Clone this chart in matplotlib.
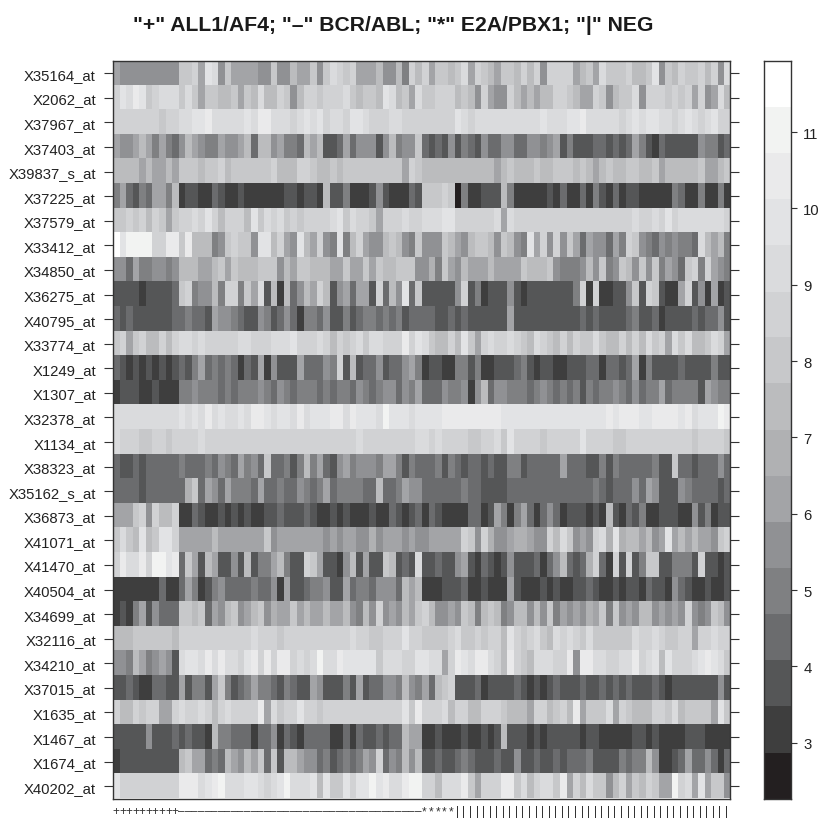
import numpy as np
import matplotlib
matplotlib.use("Agg")
import matplotlib.pyplot as plt
from matplotlib.colors import ListedColormap, BoundaryNorm

plt.rcParams["font.family"] = ["Liberation Sans", "DejaVu Sans"]

genes = ["X35164_at", "X2062_at", "X37967_at", "X37403_at", "X39837_s_at", "X37225_at",
         "X37579_at", "X33412_at", "X34850_at", "X36275_at", "X40795_at", "X33774_at",
         "X1249_at", "X1307_at", "X32378_at", "X1134_at", "X38323_at", "X35162_s_at",
         "X36873_at", "X41071_at", "X41470_at", "X40504_at", "X34699_at", "X32116_at",
         "X34210_at", "X37015_at", "X1635_at", "X1467_at", "X1674_at", "X40202_at"]

group_symbols = ["+", "\u2013", "*", "|"]
group_sizes = [10, 37, 5, 42]

colorbar_breaks = [2.27, 2.87, 3.48, 4.08, 4.69, 5.29, 5.89, 6.50, 7.10, 7.71, 8.31, 8.91, 9.52, 10.12, 10.73, 11.33, 11.93]
colorbar_ticks = [3, 4, 5, 6, 7, 8, 9, 10, 11]
grays = ["#231f20", "#3e3e3e", "#555657", "#6b6c6e", "#7f8082", "#909194", "#a3a4a7", "#b0b1b3",
         "#bbbcbe", "#c7c8ca", "#d1d2d4", "#dadbdd", "#e2e3e5", "#eaeaeb", "#f2f3f2", "#ffffff"]

# each number is the colour band of one cell
X35164_at = [6,5,5,5,5,5,5,5,5,5, 9,9,10,6,12,11,5,9,6,6, 6,6,5,5,9,5,5,8,6,6, 9,5,9,11,10,9,10,6,6,6, 8,5,5,8,4,10,8,10,6,9, 9,8,9,11,6,10,9,8,6,9, 9,8,10,8,10,5,10,10,10,10, 6,8,9,6,11,9,9,9,10,8, 8,9,12,5,9,8,10,9,9,10, 8,10,5,11]
X2062_at = [10,12,11,13,12,9,10,11,11,11, 9,11,9,6,9,9,8,8,9,6, 9,8,11,8,8,10,9,5,8,10, 10,9,10,10,10,11,9,8,9,9, 8,12,11,8,9,6,11,9,9,10, 10,10,8,9,8,5,10,6,5,5, 10,8,6,8,6,8,8,10,10,9, 8,6,6,10,9,5,8,9,9,11, 5,10,10,10,9,10,9,10,6,10, 5,6,11,8]
X37967_at = [10,10,10,10,10,10,10,9,10,10, 11,11,12,12,13,11,11,11,11,11, 12,11,13,13,11,11,11,10,11,12, 11,12,10,11,11,10,12,12,11,10, 10,10,11,11,10,10,10,10,10,10, 10,10,12,11,10,11,11,11,11,11, 11,11,11,11,11,12,11,11,11,12, 12,13,11,11,11,11,11,10,11,12, 11,12,12,11,11,10,11,12,11,10, 11,12,10,10]
X37403_at = [6,5,5,6,8,6,4,6,4,3, 5,8,6,5,4,4,6,5,5,6, 8,3,8,8,5,6,4,4,3,8, 6,8,2,2,3,6,3,5,5,5, 2,5,8,4,5,5,9,3,2,3, 2,5,2,4,3,2,5,3,3,5, 5,3,3,5,5,4,5,6,2,4, 2,2,2,3,3,2,3,2,3,6, 4,2,1,3,2,2,2,2,2,5, 4,4,2,3]
X39837_s_at = [8,8,8,8,6,8,6,6,8,6, 9,9,9,8,9,9,10,8,9,9, 9,9,9,9,10,8,8,8,10,10, 9,8,8,9,8,9,9,9,9,9, 9,9,9,9,6,10,9,8,8,8, 8,8,8,8,8,8,8,8,6,8, 9,8,8,8,9,8,8,9,9,9, 8,9,8,6,8,9,8,8,9,9, 8,8,9,6,8,8,8,8,8,9, 6,6,8,9]
X37225_at = [4,6,3,2,4,3,6,6,4,8, 1,2,2,1,1,3,2,1,1,2, 1,1,1,1,1,1,2,2,1,2, 2,1,8,2,2,4,1,1,1,2, 5,2,1,1,1,3,2,9,9,9, 10,9,0,4,1,1,2,2,2,8, 4,1,1,1,1,1,2,1,3,1, 1,3,1,4,2,1,3,1,2,2, 1,1,1,1,1,4,3,1,1,4, 1,1,4,1]
X37579_at = [9,9,10,9,10,8,10,9,6,9, 10,10,11,10,12,10,8,10,10,10, 8,12,9,11,10,11,9,10,9,10, 10,10,10,11,12,9,11,10,10,9, 6,10,10,10,11,10,10,11,11,11, 12,12,10,10,10,10,10,10,11,6, 11,10,10,10,10,10,10,10,10,10, 10,10,10,10,10,10,10,10,10,11, 10,10,11,10,12,10,11,11,11,11, 11,11,11,10]
X33412_at = [15,12,14,14,14,14,10,10,13,13, 9,13,8,8,8,4,5,9,10,9, 9,5,12,12,8,10,6,5,12,8, 6,10,5,4,12,4,8,10,6,5, 5,8,9,8,5,4,9,5,5,5, 9,8,6,5,8,9,9,8,5,9, 8,5,4,12,6,10,5,10,5,9, 6,3,6,5,5,3,6,4,10,9, 5,4,3,5,4,5,4,4,3,11, 8,6,8,4]
X34850_at = [5,5,3,6,4,4,5,5,4,5, 8,8,8,6,6,8,9,6,9,8, 8,8,9,9,9,5,8,6,9,9, 8,8,8,6,6,9,6,6,9,6, 9,8,8,9,9,9,5,5,7,4, 9,6,5,8,6,6,6,8,6,6, 6,6,9,8,8,8,9,5,4,4, 4,5,8,5,9,4,5,9,8,5, 9,5,9,4,6,5,3,9,10,4, 10,6,5,4]
X36275_at = [2,2,2,2,1,2,2,2,2,3, 9,10,4,5,5,8,4,10,10,4, 9,6,11,2,8,1,8,3,5,8, 6,10,8,2,5,6,3,6,6,2, 10,3,8,5,12,3,9,2,2,2, 2,2,5,10,2,4,1,2,2,2, 5,2,1,2,2,2,2,2,2,2, 4,10,1,10,1,1,2,2,5,9, 2,10,9,2,1,1,6,10,2,5, 1,6,1,2]
X40795_at = [3,2,3,2,2,2,2,2,2,3, 3,4,3,3,2,6,5,5,4,3, 2,2,5,4,2,3,5,3,1,4, 4,3,5,2,2,4,2,3,4,4, 3,4,3,4,2,3,3,3,3,2, 2,3,2,3,2,2,2,2,2,2, 6,2,2,2,2,2,2,2,2,2, 2,3,2,3,2,2,2,2,3,4, 2,2,3,1,2,2,2,2,3,2, 3,3,5,2]
X33774_at = [9,10,6,9,10,8,8,10,8,10, 11,11,10,11,10,10,10,10,10,11, 11,10,10,10,11,11,11,12,10,10, 10,11,10,8,10,9,10,11,9,11, 11,10,10,10,13,10,12,11,9,8, 8,10,8,12,9,6,10,11,10,10, 11,10,9,8,11,10,9,8,10,8, 10,9,9,11,9,8,8,10,8,10, 8,11,9,10,6,11,9,11,8,8, 9,11,10,6]
X1249_at = [3,2,1,2,1,2,1,2,1,2, 3,2,4,6,3,4,3,4,3,1, 3,2,6,1,5,2,2,2,6,3, 3,3,5,4,10,2,8,2,3,3, 5,2,3,3,5,6,4,1,2,2, 1,1,4,4,2,4,1,1,2,2, 2,3,4,2,1,2,2,1,1,2, 2,2,3,3,1,3,3,2,3,6, 1,4,2,2,2,2,3,2,2,2, 2,4,2,2]
X1307_at = [1,2,2,2,1,1,2,1,1,1, 4,4,5,4,4,4,3,4,3,4, 4,4,5,4,3,5,4,3,4,4, 4,3,4,3,4,4,3,5,4,3, 4,5,5,3,5,4,6,3,3,3, 5,4,4,5,1,5,8,3,5,5, 4,4,4,3,4,5,4,3,4,3, 4,2,4,3,4,4,5,4,3,5, 3,4,4,6,3,4,4,4,4,2, 6,5,4,4]
X32378_at = [11,11,11,11,11,11,11,11,11,11, 12,11,12,11,13,11,12,11,11,12, 11,13,13,12,11,12,12,11,13,11, 12,12,12,13,13,11,13,12,12,12, 11,14,12,12,12,11,12,12,12,12, 13,13,13,13,13,13,13,13,13,12, 12,12,12,12,12,12,12,12,12,12, 12,12,12,12,12,13,12,13,13,13, 12,12,13,13,13,13,12,13,11,12, 12,12,14,13]
X1134_at = [11,10,10,10,9,9,10,10,9,10, 10,10,10,11,10,10,10,10,10,10, 10,10,10,10,10,10,10,10,10,10, 10,10,10,10,10,10,10,11,10,10, 10,10,10,10,10,10,11,11,10,11, 10,10,10,10,9,9,10,10,11,9, 12,10,10,10,10,9,10,10,10,10, 10,12,10,10,10,10,9,9,10,10, 10,10,10,10,10,10,10,10,9,10, 10,10,10,9]
X38323_at = [3,2,2,3,2,3,3,3,3,3, 4,3,3,3,4,3,5,4,3,6, 4,5,3,9,3,3,4,2,4,8, 4,6,3,2,5,6,4,5,5,5, 4,6,6,4,2,4,3,3,3,4, 2,4,3,2,3,3,2,3,2,2, 4,4,2,3,3,3,3,3,6,3, 3,3,2,2,4,2,4,3,3,3, 3,3,4,2,2,9,3,3,2,3, 3,3,5,3]
X35162_s_at = [3,3,3,3,2,3,3,3,3,3, 3,7,9,3,6,5,3,6,4,4, 4,3,6,3,3,4,3,3,5,4, 3,4,6,3,4,4,4,4,3,3, 8,3,3,4,6,5,5,3,3,3, 3,3,3,4,3,3,2,2,2,2, 3,3,3,3,3,3,3,3,3,3, 3,3,3,4,3,2,3,3,3,5, 3,6,5,2,2,2,5,4,3,3, 3,3,2,3]
X36873_at = [6,6,6,9,10,5,10,8,8,10, 1,1,3,2,1,1,2,1,2,1, 2,1,1,2,2,3,2,2,2,3, 2,1,1,2,1,2,1,1,1,2, 1,1,3,2,1,2,3,1,3,2, 1,1,1,1,3,3,1,2,6,4, 1,4,6,3,1,3,5,3,1,2, 2,2,1,2,1,8,2,1,3,2, 4,1,1,2,2,2,1,1,5,2, 4,1,2,2]
X41071_at = [9,11,9,8,12,8,9,12,12,10, 6,6,6,6,6,8,6,6,6,6, 6,6,6,9,5,6,6,6,6,6, 6,6,5,6,5,6,6,5,5,7, 5,6,6,6,5,6,5,5,6,6, 6,6,6,10,9,5,10,7,5,5, 6,7,7,6,5,5,10,8,11,9, 5,6,5,10,11,7,12,7,8,8, 6,8,5,6,12,6,8,6,8,6, 6,5,9,10]
X41470_at = [10,13,11,11,13,10,14,14,12,13, 3,9,6,2,8,6,2,2,5,2, 8,2,4,4,6,8,4,2,2,10, 9,6,2,2,1,5,8,2,6,2, 2,9,8,2,3,2,11,2,2,3, 2,2,5,6,2,1,3,2,1,2, 5,2,2,2,3,1,3,5,8,3, 2,3,7,10,3,1,10,2,10,2, 4,9,9,2,2,4,4,4,2,10, 2,2,1,2]
X40504_at = [1,1,1,1,1,1,1,3,1,1, 3,6,4,1,2,4,5,3,3,3, 3,4,3,3,5,1,6,2,2,3, 4,4,5,2,2,6,3,4,4,3, 5,5,5,3,8,6,8,1,1,1, 2,2,2,3,1,1,2,1,1,1, 6,2,1,1,1,2,1,2,1,1, 2,2,3,2,1,1,2,1,2,2, 1,3,2,2,1,5,3,2,1,1, 2,1,1,2]
X34699_at = [1,2,1,4,6,2,5,3,3,3, 9,9,8,9,3,6,5,8,9,5, 6,8,9,5,7,6,6,9,6,8, 6,6,8,6,6,8,5,4,8,5, 10,5,6,5,8,6,9,10,8,5, 5,6,5,9,8,4,8,9,8,4, 5,8,8,5,8,5,9,4,6,5, 6,5,7,6,9,4,9,5,6,5, 8,8,5,6,5,6,5,10,5,4, 5,9,8,5]
X32116_at = [8,8,8,9,9,9,9,9,9,8, 10,10,10,10,10,10,10,10,10,10, 10,11,10,10,10,9,10,10,10,10, 10,10,10,10,10,10,11,10,10,9, 9,10,10,10,12,10,10,9,9,9, 9,10,11,9,9,10,9,10,10,8, 12,10,9,10,11,9,8,11,10,11, 10,9,11,9,9,9,9,9,9,11, 10,10,11,10,9,9,10,10,6,10, 10,11,10,10]
X34210_at = [5,5,4,8,6,4,5,6,5,2, 11,12,12,11,13,11,13,11,11,10, 12,13,10,13,10,13,13,10,11,10, 11,14,11,11,13,12,12,12,12,12, 9,11,11,11,10,10,12,12,11,11, 6,10,13,12,11,13,13,11,10,8, 13,10,9,8,11,11,11,10,10,13, 5,13,13,11,11,10,10,11,11,13, 10,11,12,8,12,10,10,10,11,12, 13,12,11,9]
X37015_at = [2,2,3,2,1,1,3,3,2,2, 6,2,4,4,2,6,9,4,2,3, 4,6,4,4,3,2,4,3,2,2, 6,5,2,2,2,4,2,6,2,3, 3,5,5,4,8,5,4,6,3,8, 9,10,2,2,2,3,1,2,2,2, 2,3,2,1,2,1,2,3,2,2, 2,3,2,2,3,2,3,2,3,2, 2,2,3,2,1,2,2,2,2,2, 2,2,5,2]
X1635_at = [10,8,8,10,9,10,10,6,6,10, 11,10,10,11,10,8,10,11,10,10, 10,10,13,6,11,9,10,10,12,10, 10,9,10,10,10,10,10,10,10,10, 10,10,10,10,12,9,13,10,10,10, 11,8,10,10,8,8,10,10,10,9, 8,8,8,6,10,10,8,9,10,8, 13,6,9,9,9,11,6,10,9,8, 8,8,10,10,9,11,8,9,9,9, 9,6,12,9]
X1467_at = [2,2,2,2,2,5,2,2,2,3, 2,3,2,2,1,8,4,4,3,3, 3,1,3,3,5,1,3,2,1,3, 3,3,3,1,1,3,1,3,2,2, 3,2,3,3,8,6,6,1,1,2, 1,1,1,2,1,1,2,1,2,8, 2,2,2,1,2,1,2,2,2,2, 2,1,2,2,1,1,1,1,1,2, 2,1,2,1,1,1,1,2,2,2, 1,1,1,1]
X1674_at = [1,2,2,2,2,2,2,2,2,2, 8,9,6,6,3,4,3,8,6,5, 8,6,9,3,9,2,8,8,6,5, 5,3,4,2,3,4,3,4,6,5, 10,3,5,4,8,5,8,2,2,3, 2,2,3,4,3,2,2,2,3,2, 2,5,2,2,3,2,2,3,2,3, 3,3,4,2,2,2,2,4,3,4, 4,8,5,1,1,2,3,6,3,3, 5,3,1,3]
X40202_at = [12,10,10,10,10,10,10,10,10,10, 13,13,13,11,12,13,14,11,11,11, 12,12,11,10,11,12,14,11,11,11, 12,8,12,9,9,12,10,12,12,14, 12,13,11,11,13,14,14,10,10,8, 11,11,11,13,9,6,10,10,10,13, 13,9,11,8,10,11,11,9,13,6, 10,8,11,9,9,5,8,10,6,9, 8,10,9,6,6,14,10,11,6,12, 6,9,9,5]

rows = [X35164_at, X2062_at, X37967_at, X37403_at, X39837_s_at, X37225_at, X37579_at, X33412_at,
        X34850_at, X36275_at, X40795_at, X33774_at, X1249_at, X1307_at, X32378_at, X1134_at,
        X38323_at, X35162_s_at, X36873_at, X41071_at, X41470_at, X40504_at, X34699_at, X32116_at,
        X34210_at, X37015_at, X1635_at, X1467_at, X1674_at, X40202_at]

cmap = ListedColormap(grays)
W, H = 825, 820
frame_color = "#333333"

fig = plt.figure(figsize=(W / 100, H / 100), dpi=100)

# main heat map
ax = fig.add_axes([112.6 / W, 1 - 799.5 / H, 617.2 / W, 737.5 / H])
ax.imshow(np.array(rows), cmap=cmap, norm=BoundaryNorm(np.arange(17) - 0.5, 16),
          aspect="auto", interpolation="nearest")
ax.set_yticks(range(len(genes)))
ax.set_yticklabels(genes, fontsize=10.7, color="#222222")
ax.tick_params(axis="y", length=6.5, width=0.8, color=frame_color, left=True, right=True, pad=5.5)

symbols = [s for s, n in zip(group_symbols, group_sizes) for _ in range(n)]
ax.set_xticks(range(len(symbols)))
ax.set_xticklabels(symbols, fontsize=8.5, color="#333333")
ax.tick_params(axis="x", length=0, pad=5)
for sp in ax.spines.values():
    sp.set_color(frame_color)
    sp.set_linewidth(1.0)

# colour key
cax = fig.add_axes([764 / W, 1 - 799.5 / H, 26.7 / W, 737.5 / H])
cax.pcolormesh([0, 1], colorbar_breaks, np.arange(16).reshape(-1, 1), cmap=cmap,
               norm=BoundaryNorm(np.arange(17) - 0.5, 16))
cax.set_xticks([])
cax.yaxis.tick_right()
cax.set_yticks(colorbar_ticks)
cax.tick_params(axis="y", length=4, width=0.8, color=frame_color, labelsize=10.7, pad=5, labelcolor="#222222")
for sp in cax.spines.values():
    sp.set_color(frame_color)
    sp.set_linewidth(1.0)

fig.text(393.5 / W, 1 - 25.5 / H, '"+" ALL1/AF4; "\u2013" BCR/ABL; "*" E2A/PBX1; "|" NEG',
         ha="center", va="center", fontsize=15.2, fontweight="bold", color="#1a1a1a")

fig.savefig("out.png", dpi=100)
